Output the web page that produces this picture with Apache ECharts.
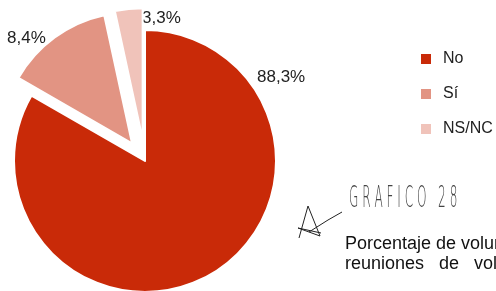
<!DOCTYPE html>
<html>
<head>
<meta charset="utf-8">
<script src="https://cdn.jsdelivr.net/npm/echarts@6/dist/echarts.min.js"></script>
<style>
  html, body { margin: 0; padding: 0; background: #fff; }
  #main { width: 496px; height: 291px; }
</style>
</head>
<body>
<div id="main"></div>
<script>
// datos del grafico (los sectores, como se ven dibujados)
var categorias = ['No', 'Sí', 'NS/NC'];
var valores = [83.3, 13.3, 3.4];
var etiquetas = ['88,3%', '8,4%', '3,3%'];
var colores = ['#c92a08', '#e29483', '#f0c3ba'];
var separados = [false, true, true];

// sitio de cada etiqueta (como en el original, no en el centro del sector)
var sitioEtiqueta = [[257, 77], [7, 38], [142, 18]];

var myChart = echarts.init(document.getElementById('main'));

var data = [];
for (var i = 0; i < categorias.length; i++) {
    data.push({
        name: categorias[i],
        value: valores[i],
        selected: separados[i],
        itemStyle: { color: colores[i] }
    });
}

var textos = [];
for (var j = 0; j < etiquetas.length; j++) {
    textos.push({
        type: 'text',
        x: sitioEtiqueta[j][0],
        y: sitioEtiqueta[j][1],
        style: {
            text: etiquetas[j],
            fontFamily: 'Liberation Sans',
            fontSize: 17,
            fill: '#222',
            verticalAlign: 'middle'
        }
    });
}

var option = {
    animation: false,
    legend: {
        orient: 'vertical',
        left: 421,
        top: 51,
        padding: 0,
        itemWidth: 10,
        itemHeight: 10,
        itemGap: 19,
        icon: 'rect',
        selectedMode: false,
        itemStyle: { borderWidth: 0 },
        textStyle: {
            fontFamily: 'Liberation Sans',
            fontSize: 16,
            lineHeight: 16,
            color: '#222',
            padding: [0, 0, 0, 7]
        },
        data: categorias
    },
    series: [{
        type: 'pie',
        center: [145, 161],
        radius: 131,
        startAngle: 90,
        clockwise: true,
        selectedMode: 'multiple',
        selectedOffset: 22,
        emphasis: { disabled: true },
        itemStyle: { borderColor: '#fff', borderWidth: 2 },
        label: { show: false },
        labelLine: { show: false },
        data: data
    }],
    graphic: textos.concat([
        {
            type: 'text',
            x: 349,
            y: 183,
            scaleX: 0.39,
            style: {
                text: 'G R A F I C O   2 8',
                fontFamily: 'DejaVu Sans',
                fontWeight: 'lighter',
                fontSize: 31,
                fill: '#444'
            }
        },
        {
            type: 'polyline',
            shape: { points: [[299, 238], [308, 206], [320, 236], [298, 228], [321, 233]] },
            style: { stroke: '#222', lineWidth: 1, fill: null }
        },
        {
            type: 'polyline',
            shape: { points: [[309, 232], [328, 220], [342, 212]] },
            style: { stroke: '#222', lineWidth: 1, fill: null }
        },
        {
            type: 'text',
            x: 345,
            y: 234,
            style: {
                text: 'Porcentaje de voluntarios que participan en\nreuniones   de   voluntarios',
                fontFamily: 'Liberation Sans',
                fontSize: 18,
                lineHeight: 20,
                fill: '#111'
            }
        }
    ])
};

myChart.setOption(option);
</script>
</body>
</html>
